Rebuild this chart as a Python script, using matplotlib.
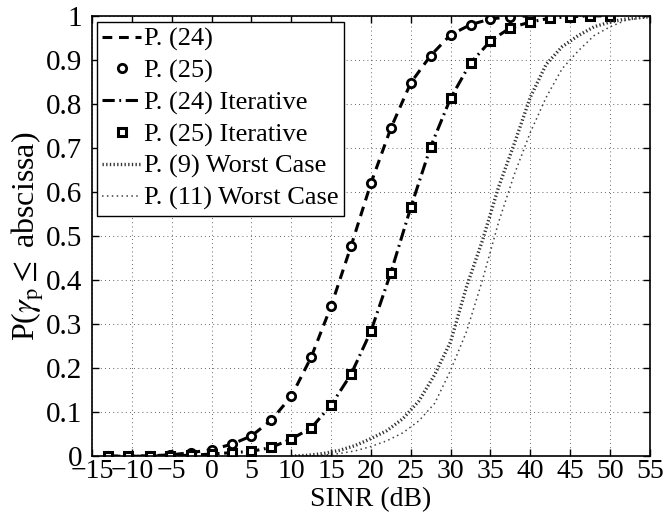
import matplotlib
matplotlib.use("Agg")
import matplotlib.pyplot as plt

plt.rcParams['font.family'] = ['Liberation Serif', 'DejaVu Serif']
plt.rcParams['mathtext.fontset'] = 'stix'

# ---- data ----
sinr_main = [-13, -10.5, -7.8, -5.2, -2.6, 0, 2.5, 5, 7.5, 10, 12.5, 15, 17.5,
             20, 22.5, 25, 27.5, 30, 32.5, 35, 37.5, 40]
cdf_p24 = [0.0, 0.0, 0.001, 0.003, 0.008, 0.015, 0.027, 0.046, 0.082, 0.136,
           0.225, 0.341, 0.477, 0.62, 0.745, 0.848, 0.91, 0.957, 0.98, 0.993,
           0.998, 1.0]

sinr_iter = [-13, -10.5, -7.8, -5.2, -2.6, 0, 2.5, 5, 7.5, 10, 12.5, 15, 17.5,
             20, 22.5, 25, 27.5, 30, 32.5, 35, 37.5, 40, 42.5, 45, 47.5, 50]
cdf_p24_iter = [0.0, 0.0, 0.0, 0.001, 0.002, 0.005, 0.008, 0.011, 0.02, 0.039,
                0.064, 0.116, 0.186, 0.284, 0.417, 0.565, 0.703, 0.813, 0.893,
                0.943, 0.973, 0.986, 0.995, 0.998, 1.0, 1.0]

sinr_wc9 = [10, 12, 14, 16, 18, 20, 22, 24, 26, 28, 30, 32, 34, 36, 38, 40,
            42, 44, 46, 48, 50, 52, 55]
cdf_wc9 = [0.0, 0.002, 0.006, 0.013, 0.024, 0.04, 0.058, 0.085, 0.125, 0.185,
           0.26, 0.385, 0.49, 0.61, 0.71, 0.815, 0.89, 0.93, 0.955, 0.975,
           0.986, 0.993, 0.998]

sinr_wc11 = [12, 14, 16, 18, 20, 22, 24, 26, 28, 30, 32, 34, 36, 38, 40, 42,
             44, 46, 48, 50, 52, 55]
cdf_wc11 = [0.0, 0.002, 0.006, 0.012, 0.022, 0.035, 0.053, 0.08, 0.12, 0.195,
            0.283, 0.4, 0.53, 0.64, 0.735, 0.815, 0.88, 0.92, 0.955, 0.975,
            0.99, 0.998]

labels = ['P. (24)', 'P. (25)', 'P. (24) Iterative', 'P. (25) Iterative',
          'P. (9) Worst Case', 'P. (11) Worst Case']
xticks = list(range(-15, 56, 5))
yticks = [i / 10 for i in range(11)]
ytick_labels = ['0', '0.1', '0.2', '0.3', '0.4', '0.5', '0.6', '0.7', '0.8', '0.9', '1']

FS = 20

fig = plt.figure(figsize=(6.63, 5.12), dpi=100)
ax = fig.add_axes([0.139, 0.109, 0.841, 0.860])

l1, = ax.plot(sinr_main, cdf_p24, color='k', lw=2.2, dashes=(3.2, 2.2))
l2, = ax.plot(sinr_main, cdf_p24, ls='none', marker='o', ms=6, mfc='white',
              mec='k', mew=2)
l3, = ax.plot(sinr_iter, cdf_p24_iter, color='k', lw=2.2,
              dashes=(4, 1.5, 0.6, 1.5))
l4, = ax.plot(sinr_iter, cdf_p24_iter, ls='none', marker='s', ms=5.3,
              mfc='white', mec='k', mew=2.2)
l5, = ax.plot(sinr_wc9, cdf_wc9, color='0.2', lw=2.4, dashes=(0.4, 0.7))
l6, = ax.plot(sinr_wc11, cdf_wc11, color='0.25', lw=1.1, dashes=(1, 2.2))

ax.set_xlim(-15, 55)
ax.set_ylim(0, 1)
ax.set_xticks(xticks)
ax.set_yticks(yticks)
ax.set_yticklabels(ytick_labels)
ax.tick_params(direction='in', top=True, right=True, length=5, width=1,
               labelsize=FS, pad=2)
ax.tick_params(axis='y', labelsize=21, pad=7)
ax.grid(True, color='k', ls=(0, (1, 4)), lw=0.6, alpha=0.8)
for s in ax.spines.values():
    s.set_linewidth(1.2)

ax.set_xlabel('SINR (dB)', fontsize=FS, labelpad=2.5)
ax.set_ylabel(r'P($\gamma_{\mathrm{p}} \leq$ abscissa)', fontsize=23, labelpad=0)

leg = ax.legend([l1, l2, l3, l4, l5, l6], labels, loc='upper left',
                bbox_to_anchor=(0.009, 0.986), fontsize=19, frameon=True,
                fancybox=False, edgecolor='k', framealpha=1,
                handlelength=1.45, handletextpad=0.12, borderpad=0.2,
                labelspacing=0.3, borderaxespad=0)
leg.get_frame().set_linewidth(1.0)

fig.savefig('out.png', dpi=100)
